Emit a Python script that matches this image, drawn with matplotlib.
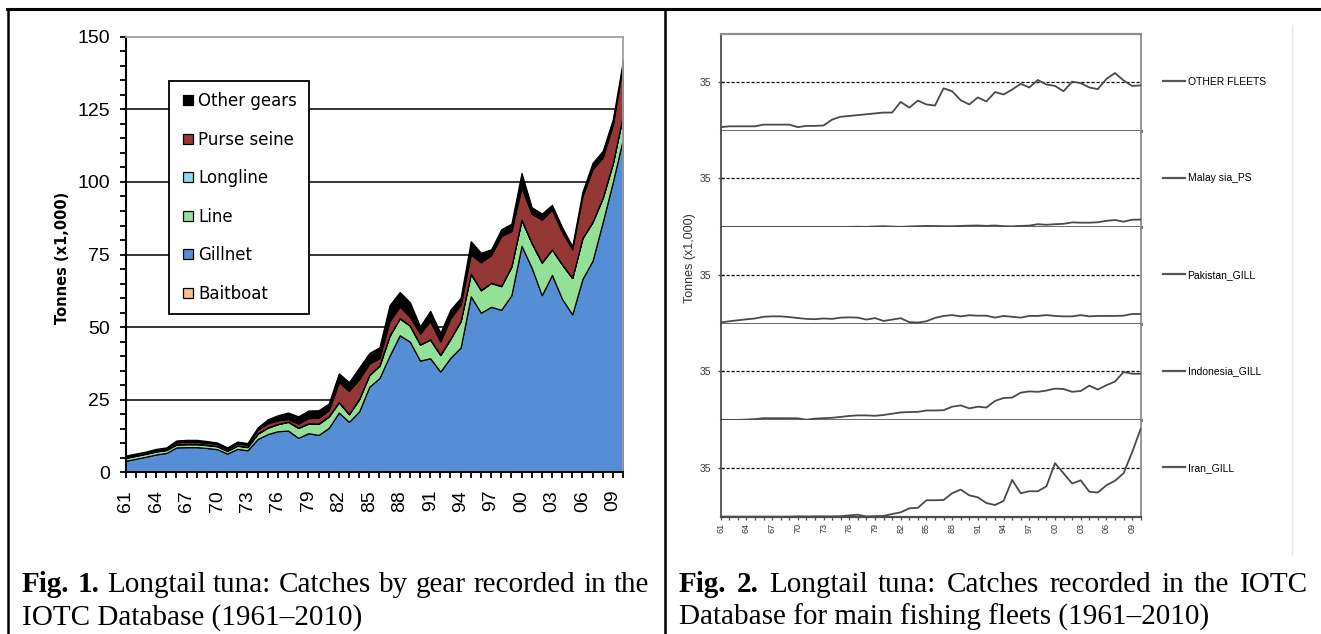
import matplotlib
matplotlib.use('Agg')
import matplotlib.pyplot as plt
from matplotlib.lines import Line2D
from matplotlib.ticker import MultipleLocator

# ---- data (tonnes x1,000), 1961-2010 ----
years = list(range(1961, 2011))

# Fig. 1 : catches by gear (stacked)
baitboat = [0, 0, 0, 0, 0, 0, 0, 0, 0, 0,
            0, 0, 0, 0, 0, 0, 0, 0, 0, 0,
            0, 0, 0, 0, 0, 0, 0, 0, 0, 0,
            0, 0, 0, 0, 0, 0, 0, 0, 0, 0,
            0, 0, 0, 0, 0, 0, 0, 0, 0, 0]
gillnet = [4.0, 4.7, 5.4, 6.2, 6.7, 8.6, 8.7, 8.7, 8.4, 8.0,
           6.5, 8.1, 7.6, 11.5, 13.2, 14.2, 14.4, 11.9, 13.5, 12.9,
           15.3, 20.6, 17.4, 21.0, 29.5, 32.5, 40.2, 47.2, 45.0, 38.5,
           39.3, 34.7, 39.5, 43.0, 60.6, 55.0, 57.0, 56.0, 61.0, 78.0,
           70.5, 61.0, 68.0, 59.7, 54.4, 66.6, 72.9, 86.2, 100.0, 115.0]
line = [1.0, 1.0, 1.0, 1.0, 1.0, 1.0, 1.0, 1.0, 1.0, 1.0,
        0.9, 1.1, 1.1, 1.8, 2.2, 2.4, 3.0, 3.4, 3.3, 3.8,
        3.9, 3.5, 2.6, 4.2, 4.0, 4.2, 6.8, 5.8, 5.5, 5.5,
        6.4, 5.7, 6.5, 9.0, 7.7, 7.7, 8.2, 8.1, 9.8, 8.9,
        8.4, 11.2, 8.7, 11.8, 12.5, 14.0, 13.3, 8.3, 6.4, 8.0]
longline = [0.1, 0.1, 0.1, 0.1, 0.1, 0.1, 0.1, 0.1, 0.1, 0.1,
            0.1, 0.1, 0.1, 0.1, 0.1, 0.1, 0.1, 0.1, 0.1, 0.1,
            0.1, 0.1, 0.1, 0.1, 0.1, 0.1, 0.1, 0.1, 0.1, 0.1,
            0.1, 0.1, 0.1, 0.1, 0.1, 0.1, 0.1, 0.1, 0.1, 0.1,
            0.1, 0.1, 0.1, 0.1, 0.1, 0.1, 0.1, 0.1, 0.1, 0.1]
purse_seine = [0.4, 0.4, 0.4, 0.4, 0.4, 0.7, 0.7, 0.7, 0.7, 0.7,
               0.6, 0.7, 0.7, 1.3, 1.4, 1.2, 0.9, 1.4, 1.8, 2.0,
               2.1, 6.9, 8.0, 6.8, 3.9, 2.5, 5.0, 4.0, 3.0, 3.7,
               6.3, 4.6, 7.0, 5.6, 6.7, 9.5, 9.5, 17.2, 12.2, 11.1,
               10.1, 14.7, 13.6, 11.2, 9.8, 14.4, 18.1, 13.8, 13.2, 17.5]
other_gears = [0.3, 0.3, 0.3, 0.4, 0.4, 0.6, 0.7, 0.7, 0.6, 0.5,
               0.5, 0.6, 0.6, 0.8, 1.4, 1.8, 2.2, 2.5, 2.6, 2.6,
               2.3, 3.0, 3.0, 4.0, 3.6, 3.8, 5.5, 5.0, 5.0, 2.5,
               3.5, 3.0, 3.0, 2.4, 4.5, 3.3, 2.0, 2.3, 2.5, 5.0,
               2.2, 2.1, 1.7, 1.6, 1.1, 1.5, 2.2, 2.3, 1.9, 1.3]
gear_names = ['Baitboat', 'Gillnet', 'Line', 'Longline', 'Purse seine', 'Other gears']
gear_colors = ['#FAC090', '#558ED5', '#93E097', '#8ADDE6', '#953735', '#000000']

# Fig. 2 : main fleets
fleet_names = ['OTHER FLEETS', 'Malay sia_PS', 'Pakistan_GILL', 'Indonesia_GILL', 'Iran_GILL']
other_fleets = [2.6, 3.2, 3.2, 3.2, 3.2, 4.4, 4.4, 4.4, 4.4, 2.6,
                3.5, 3.5, 3.8, 8.0, 10.0, 10.6, 11.2, 11.8, 12.4, 13.0,
                13.0, 20.6, 16.5, 21.5, 18.8, 18.0, 30.3, 28.2, 21.8, 18.8,
                23.8, 20.9, 27.6, 25.9, 29.4, 33.5, 30.9, 36.2, 33.0, 32.0,
                28.2, 35.0, 34.0, 30.9, 29.7, 37.0, 41.2, 35.9, 32.0, 32.4]
malaysia_ps = [0.1, 0.1, 0.1, 0.1, 0.1, 0.1, 0.1, 0.1, 0.1, 0.1,
               0.1, 0.1, 0.1, 0.1, 0.1, 0.3, 0.4, 0.3, 0.6, 0.8,
               0.5, 0.3, 0.6, 0.8, 1.0, 0.9, 0.8, 0.8, 1.0, 1.2,
               1.3, 1.0, 1.3, 0.8, 0.7, 1.0, 1.2, 2.2, 1.8, 2.2,
               2.5, 3.5, 3.3, 3.3, 3.6, 4.6, 5.2, 4.0, 5.4, 5.5]
pakistan_gill = [1.0, 1.8, 2.5, 3.2, 3.8, 5.0, 5.3, 5.3, 4.8, 4.1,
                 3.5, 3.3, 3.8, 3.5, 4.4, 4.6, 4.4, 3.0, 4.1, 2.0,
                 3.0, 4.0, 1.2, 0.9, 1.8, 4.2, 5.6, 6.2, 5.3, 6.1,
                 5.8, 5.8, 4.4, 5.6, 5.0, 4.4, 5.6, 5.6, 6.2, 5.6,
                 5.3, 5.3, 6.2, 5.3, 5.6, 5.6, 5.6, 5.8, 7.0, 7.0]
indonesia_gill = [0.3, 0.3, 0.3, 0.5, 0.8, 1.5, 1.5, 1.5, 1.5, 1.4,
                  0.4, 1.2, 1.5, 1.8, 2.4, 3.1, 3.5, 3.5, 3.2, 3.8,
                  4.7, 5.6, 5.9, 6.0, 7.0, 7.0, 7.2, 9.7, 10.6, 8.5,
                  9.7, 9.1, 13.8, 15.9, 16.2, 19.7, 20.6, 20.3, 21.2, 22.6,
                  22.3, 20.3, 20.9, 24.7, 22.0, 25.0, 27.6, 34.4, 33.2, 33.2]
iran_gill = [0.1, 0.1, 0.1, 0.1, 0.1, 0.1, 0.1, 0.1, 0.1, 0.3,
             0.2, 0.3, 0.3, 0.3, 0.4, 1.0, 1.5, 0.2, 0.5, 0.6,
             2.0, 3.2, 6.0, 6.4, 11.8, 11.8, 12.0, 16.8, 19.4, 15.3,
             13.9, 9.8, 8.4, 11.3, 26.3, 16.8, 18.2, 18.2, 21.7, 38.2,
             31.0, 23.7, 26.0, 17.9, 17.3, 22.5, 25.7, 31.0, 46.0, 62.7]

W, H = 1321, 634
fig = plt.figure(figsize=(W / 100, H / 100), dpi=100)


def axes_px(x0, y0, x1, y1):
    return fig.add_axes([x0 / W, 1 - y1 / H, (x1 - x0) / W, (y1 - y0) / H])


def fig_line(xs, ys, **kw):
    fig.add_artist(Line2D([x / W for x in xs], [1 - y / H for y in ys],
                          transform=fig.transFigure, **kw))


tick_labels = ['%02d' % (y % 100) if (y - 1961) % 3 == 0 else '' for y in years]

# ---------------- Fig. 1 ----------------
ax = axes_px(125.7, 36.7, 623, 472.4)
ax.stackplot(years, baitboat, gillnet, line, longline, purse_seine, other_gears,
             colors=gear_colors, edgecolor='black', linewidth=0.9, zorder=2)
for g in [25, 50, 75, 100, 125]:
    ax.axhline(g, color='black', lw=1.1, zorder=1)
ax.set_xlim(1961, 2010)
ax.set_ylim(0, 150)
ax.set_yticks([0, 25, 50, 75, 100, 125, 150])
ax.yaxis.set_minor_locator(MultipleLocator(5))
ax.set_xticks(years)
ax.set_xticklabels(tick_labels, rotation=90)
for s in ['top', 'right']:
    ax.spines[s].set_color('#a0a0a0')
    ax.spines[s].set_linewidth(1.3)
for s in ['left', 'bottom']:
    ax.spines[s].set_linewidth(1.5)
ax.tick_params(which='both', direction='out', length=4.5, width=1.3)
ax.tick_params(axis='y', pad=7)
ax.tick_params(axis='x', pad=8)
for lab in ax.get_xticklabels() + ax.get_yticklabels():
    lab.set_fontfamily('Liberation Sans')
    lab.set_fontsize(14)

handles = []
for name, col in zip(gear_names[::-1], gear_colors[::-1]):
    handles.append(Line2D([], [], marker='s', linestyle='none', markersize=7,
                          markerfacecolor=col, markeredgecolor='black', markeredgewidth=0.9))
leg = ax.legend(handles, gear_names[::-1], loc='upper left', bbox_to_anchor=(0.087, 0.898),
                borderaxespad=0, frameon=True, fancybox=False, framealpha=1,
                edgecolor='black', labelspacing=1.23, borderpad=0.67,
                handlelength=0.9, handletextpad=0.2,
                prop={'family': 'DejaVu Sans', 'size': 12})
leg.get_frame().set_linewidth(1.3)
leg.set_zorder(5)

fig.text(62.5 / W, 1 - 257.6 / H, 'Tonnes (x1,000)', rotation=90, ha='center', va='center',
         fontsize=10.5, fontweight='bold', family='DejaVu Sans')

# ---------------- Fig. 2 ----------------
fleets = [other_fleets, malaysia_ps, pakistan_gill, indonesia_gill, iran_gill]
panel_h = 96.5
ymax = 68.8
for i, (name, vals) in enumerate(zip(fleet_names, fleets)):
    top = 34.3 + i * panel_h
    a = axes_px(720.7, top, 1140.7, top + panel_h)
    a.plot(years, vals, color='#4a4a4a', lw=1.3, zorder=3)
    a.axhline(35, color='black', lw=0.9, ls=(0, (2.5, 1.5)), zorder=2)
    a.set_xlim(1961, 2010)
    a.set_ylim(0, ymax)
    a.set_yticks([35])
    a.set_yticklabels(['35'], fontsize=7.5, color='#3a3a3a', family='Liberation Sans')
    a.tick_params(axis='y', direction='inout', length=4, width=1, color='#4d4d4d', pad=5)
    a.spines['left'].set_color('#4d4d4d')
    a.spines['left'].set_linewidth(1.3)
    a.spines['right'].set_color('#8c8c8c')
    a.spines['right'].set_linewidth(1.3)
    if i == 0:
        a.spines['top'].set_color('#8c8c8c')
        a.spines['top'].set_linewidth(1.6)
    else:
        a.spines['top'].set_visible(False)
    if i < 4:
        a.spines['bottom'].set_color('#6f6f6f')
        a.spines['bottom'].set_linewidth(2.2)
        a.set_xticks([])
    else:
        a.spines['bottom'].set_color('#4d4d4d')
        a.spines['bottom'].set_linewidth(1.6)
        a.set_xticks(years)
        a.set_xticklabels(tick_labels, rotation=90, fontsize=6.5, color='#3a3a3a',
                          family='Liberation Sans')
        a.tick_params(axis='x', direction='out', length=2.5, width=0.9, color='#4d4d4d', pad=2)
    a.legend([Line2D([], [], color='#555555', lw=1.6)], [name], loc='center left',
             bbox_to_anchor=(1.052, 35 / ymax), frameon=False, borderpad=0, borderaxespad=0,
             handlelength=2.2, handletextpad=0.2,
             prop={'family': 'Liberation Sans', 'size': 7.5})

fig.text(690.4 / W, 1 - 258 / H, 'Tonnes (x1,000)', rotation=90, ha='center', va='center',
         fontsize=9, color='#333333', family='Liberation Sans')

# ---------------- table frame ----------------
fig_line([7, W], [9, 9], color='black', lw=2.2)
fig_line([7.5, 7.5], [9, H], color='black', lw=1.8)
fig_line([665, 665], [9, H], color='black', lw=1.8)
fig_line([1292, 1292], [25, 555], color='#e6e6e6', lw=1)

# ---------------- captions ----------------
renderer = fig.canvas.get_renderer()
serif = 'Liberation Serif'
cap_size = 21


def justified(words, x0, x1, y):
    texts = []
    total = 0
    for w, bold in words:
        t = fig.text(0, 1 - y / H, w, fontsize=cap_size, family=serif,
                     fontweight='bold' if bold else 'normal', va='baseline', ha='left')
        wd = t.get_window_extent(renderer).width
        texts.append((t, wd))
        total += wd
    gap = (x1 - x0 - total) / (len(words) - 1)
    x = x0
    for t, wd in texts:
        t.set_x(x / W)
        x += wd + gap


cap1 = [('Fig.', True), ('1.', True)] + [(w, False) for w in
        'Longtail tuna: Catches by gear recorded in the'.split()]
cap2 = [('Fig.', True), ('2.', True)] + [(w, False) for w in
        'Longtail tuna: Catches recorded in the IOTC'.split()]
justified(cap1, 22, 649, 591.5)
justified(cap2, 679, 1308, 591.5)
fig.text(22 / W, 1 - 625 / H, 'IOTC Database (1961\u20132010)', fontsize=cap_size,
         family=serif, va='baseline')
fig.text(679 / W, 1 - 625 / H, 'Database for main fishing fleets (1961\u20132010)',
         fontsize=cap_size, family=serif, va='baseline')

fig.savefig('out.png', dpi=100)
